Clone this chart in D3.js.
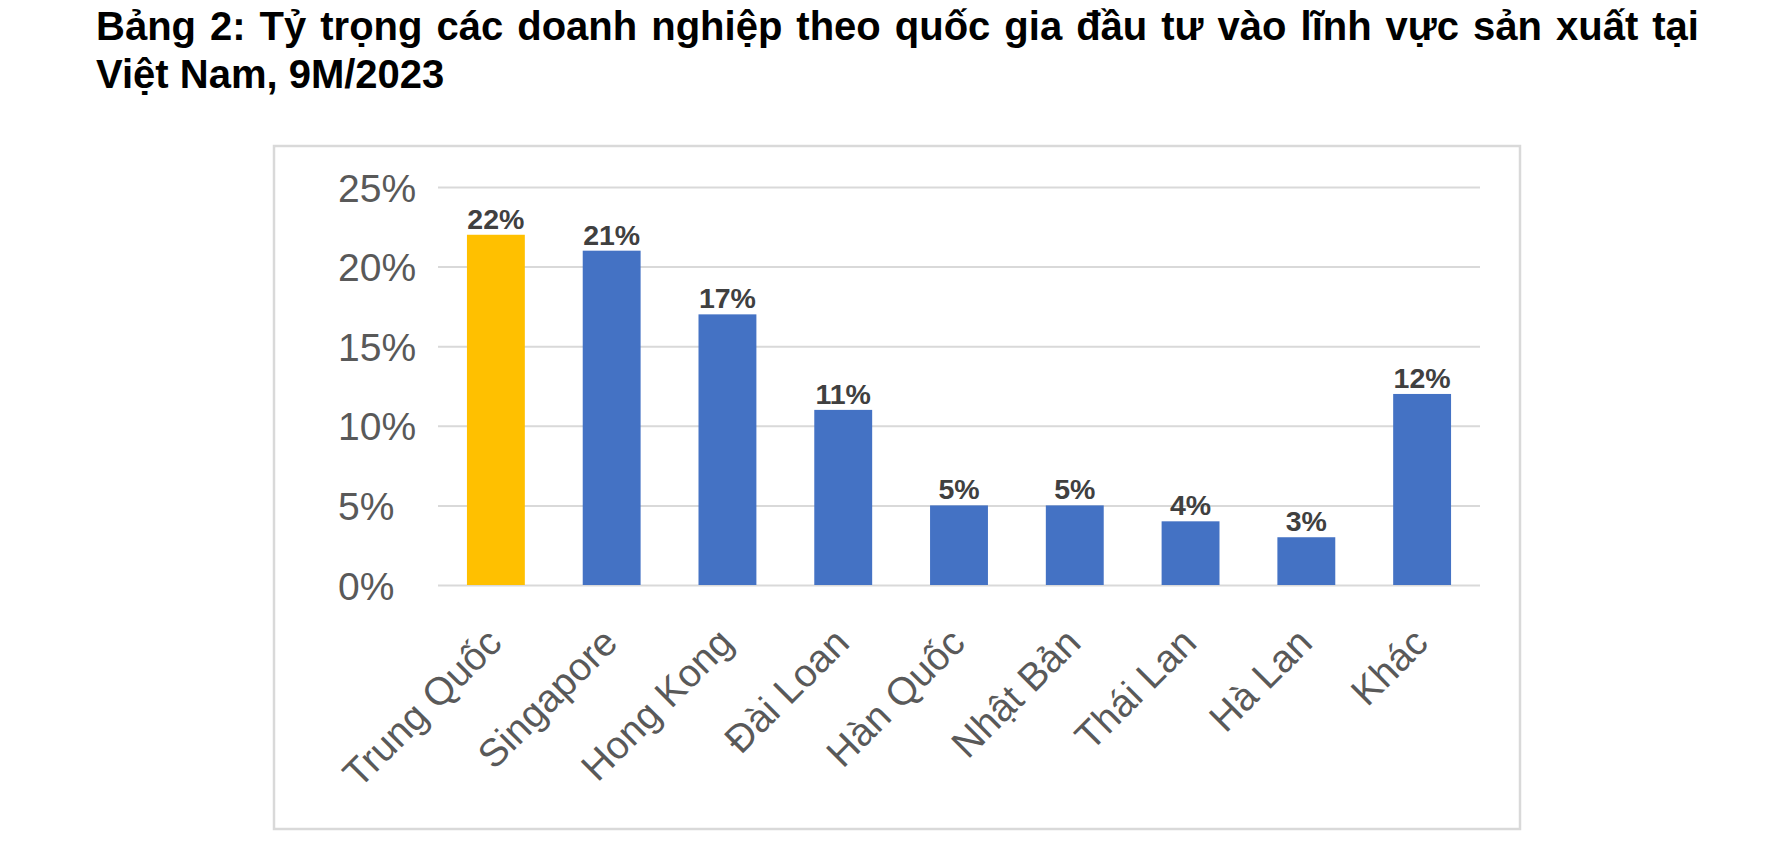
<!DOCTYPE html>
<html>
<head>
<meta charset="utf-8">
<script src="https://cdn.jsdelivr.net/npm/d3@7"></script>
<style>
  html, body { margin: 0; padding: 0; background: #ffffff; }
  svg { display: block; }
</style>
</head>
<body>
<svg id="chart" width="1784" height="852"></svg>
<script>
// ---- data ----
const titleLines = [
  "Bảng 2: Tỷ trọng các doanh nghiệp theo quốc gia đầu tư vào lĩnh vực sản xuất tại",
  "Việt Nam, 9M/2023"
];
const categories = ["Trung Quốc", "Singapore", "Hong Kong", "Đài Loan", "Hàn Quốc", "Nhật Bản", "Thái Lan", "Hà Lan", "Khác"];
const values = [22, 21, 17, 11, 5, 5, 4, 3, 12];
const yTicks = [0, 5, 10, 15, 20, 25];
const highlighted = "Trung Quốc";

// ---- drawing ----
const svg = d3.select("#chart");
const FONT = "'Liberation Sans', Arial, Helvetica, sans-serif";

// title
const t1 = svg.append("text")
  .attr("x", 96).attr("y", 40)
  .attr("font-family", FONT).attr("font-weight", "bold").attr("font-size", 40)
  .attr("fill", "#000").text(titleLines[0]);
// justify first line by word spacing
const target = 1699 - 96;
const natural = t1.node().getComputedTextLength();
const gaps = titleLines[0].split(" ").length - 1;
t1.attr("word-spacing", ((target - natural) / gaps).toFixed(2));
svg.append("text")
  .attr("x", 96).attr("y", 88)
  .attr("font-family", FONT).attr("font-weight", "bold").attr("font-size", 40)
  .attr("fill", "#000").text(titleLines[1]);

// chart border
svg.append("rect")
  .attr("x", 274).attr("y", 146).attr("width", 1246).attr("height", 683)
  .attr("fill", "none").attr("stroke", "#d9d9d9").attr("stroke-width", 2.5);

const left = 438, right = 1480;
const x = d3.scaleBand().domain(categories).range([left, right]).paddingInner(0.5).paddingOuter(0.25);
const y = d3.scaleLinear().domain([0, 25]).range([585, 187]);

// gridlines + y labels
const yAxis = svg.append("g")
  .attr("transform", `translate(${left},0)`)
  .call(d3.axisLeft(y).tickValues(yTicks).tickSize(-(right - left)).tickFormat(d => d + "%"));
yAxis.select(".domain").remove();
yAxis.selectAll(".tick line").attr("stroke", "#d9d9d9").attr("stroke-width", 2);
yAxis.selectAll(".tick text")
  .attr("x", 338 - left).attr("dy", "0.36em")
  .attr("text-anchor", "start")
  .attr("font-family", FONT).attr("font-size", 39).attr("fill", "#595959");

// bars
svg.append("g").selectAll("rect")
  .data(categories)
  .join("rect")
  .attr("x", d => x(d))
  .attr("y", (d, i) => y(values[i]))
  .attr("width", x.bandwidth())
  .attr("height", (d, i) => y(0) - y(values[i]))
  .attr("fill", d => d === highlighted ? "#FFC000" : "#4472C4");

// value labels
svg.append("g").selectAll("text")
  .data(categories)
  .join("text")
  .attr("x", d => x(d) + x.bandwidth() / 2)
  .attr("y", (d, i) => y(values[i]) - 6)
  .attr("text-anchor", "middle")
  .attr("font-family", FONT).attr("font-weight", "bold").attr("font-size", 28.5)
  .attr("fill", "#404040")
  .text((d, i) => values[i] + "%");

// x axis labels
const xAxis = svg.append("g")
  .attr("transform", `translate(0,${y(0)})`)
  .call(d3.axisBottom(x).tickSize(0));
xAxis.select(".domain").remove();
xAxis.selectAll(".tick text")
  .attr("x", 0).attr("y", 0).attr("dy", 0)
  .attr("transform", "translate(8,60) rotate(-45)")
  .attr("text-anchor", "end")
  .attr("font-family", FONT).attr("font-size", 39).attr("fill", "#595959");
</script>
</body>
</html>
